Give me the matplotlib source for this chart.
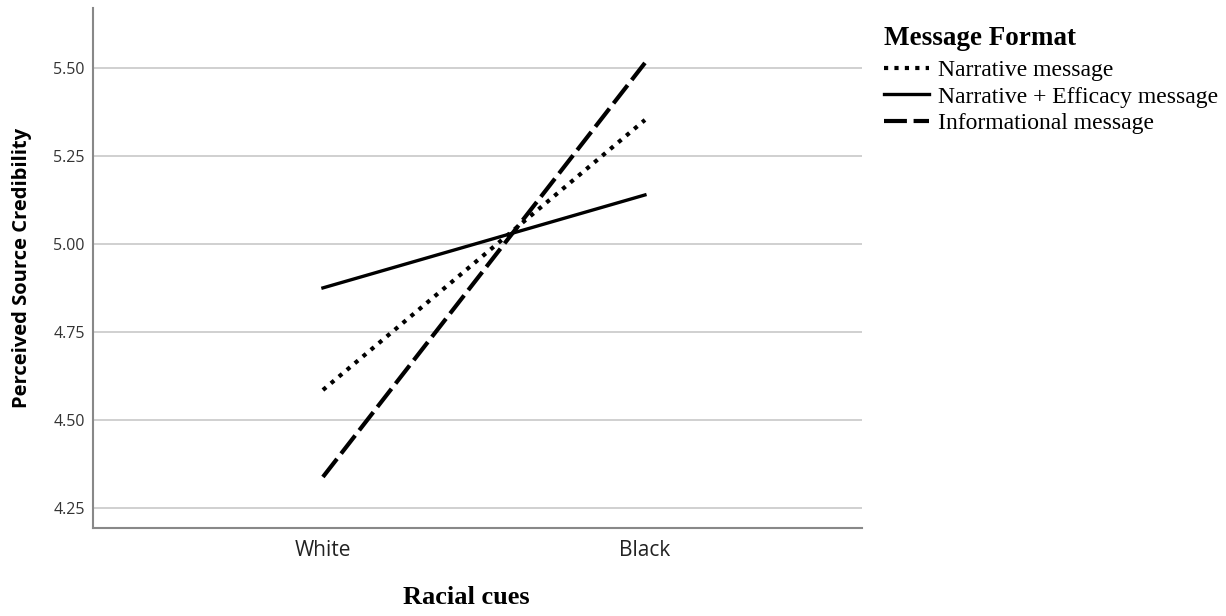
import numpy as np
import matplotlib.pyplot as plt

# Data
categories = ["White", "Black"]
narrative = [4.585, 5.352]
efficacy = [4.875, 5.139]
informational = [4.338, 5.514]
series_labels = ["Narrative message", "Narrative + Efficacy message", "Informational message"]
yticks = [4.25, 4.50, 4.75, 5.00, 5.25, 5.50]

serif = "Liberation Serif"
sans = "Open Sans"

fig = plt.figure(figsize=(12.26, 6.16), dpi=100)
ax = fig.add_axes([93 / 1226, 1 - 528 / 616, (862 - 93) / 1226, (528 - 8) / 616])

x = np.arange(len(categories))
ax.plot(x, narrative, color="black", lw=3, linestyle=(0, (1, 1.5)), label=series_labels[0])
ax.plot(x, efficacy, color="black", lw=2.4, linestyle="-", label=series_labels[1])
ax.plot(x, informational, color="black", lw=3, linestyle=(0, (5.5, 1.6)), label=series_labels[2])

ax.set_xlim(-0.714, 1.674)
ax.set_ylim(4.193, 5.67)
ax.set_xticks(x)
ax.set_xticklabels(categories, fontfamily=sans, fontsize=15, color="#222222")
ax.set_yticks(yticks)
ax.set_yticklabels([f"{v:.2f}" for v in yticks], fontfamily=sans, fontsize=11.5, color="#333333")
ax.tick_params(length=0, pad=6)
ax.tick_params(axis="x", pad=9)
ax.grid(axis="y", color="#c8c8c8", lw=1.2)
ax.set_axisbelow(True)
for s in ["top", "right"]:
    ax.spines[s].set_visible(False)
for s in ["left", "bottom"]:
    ax.spines[s].set_color("#888888")
    ax.spines[s].set_linewidth(1.5)

fig.text(22 / 1226, 1 - 268 / 616, "Perceived Source Credibility", rotation=90,
         ha="center", va="center", fontfamily=sans, fontweight="bold", fontsize=14.5)
fig.text(466 / 1226, 1 - 597 / 616, "Racial cues", ha="center", va="center",
         fontfamily=serif, fontweight="bold", fontsize=19)

leg = ax.legend(loc="upper left", bbox_to_anchor=(884 / 1226, 1 - 26 / 616),
                bbox_transform=fig.transFigure, frameon=False,
                title="Message Format", handlelength=1.9, handletextpad=0.4,
                labelspacing=0.22, borderpad=0, borderaxespad=0,
                prop={"family": serif, "size": 17},
                title_fontproperties={"family": serif, "weight": "bold", "size": 19.5})
leg._legend_box.align = "left"
leg._legend_box.sep = 6

fig.savefig("out.png", dpi=100)
